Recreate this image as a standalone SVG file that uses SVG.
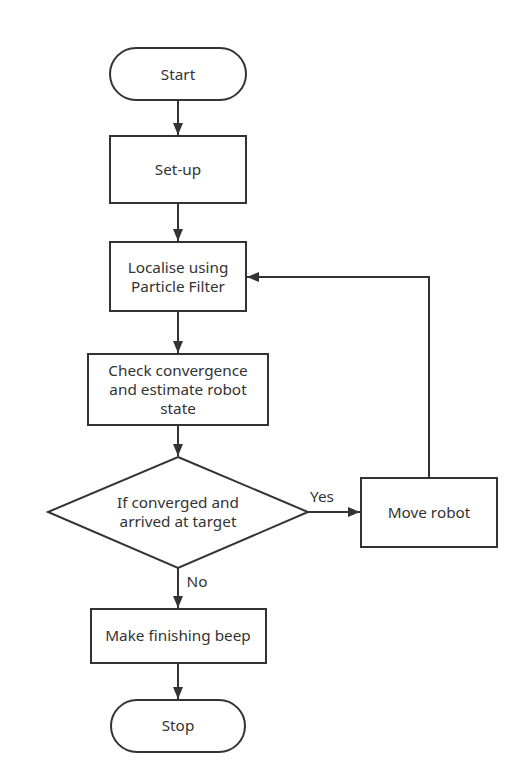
<svg xmlns="http://www.w3.org/2000/svg" width="529" height="784" viewBox="0 0 529 784">
<style>
.s{fill:#fff;stroke:#333;stroke-width:2}
.c{fill:none;stroke:#333;stroke-width:2}
text{font-family:"Noto Sans","Open Sans","DejaVu Sans",sans-serif;font-size:15.3px;fill:#333;text-anchor:middle}
</style>
<defs>
<marker id="a" viewBox="0 0 12 10" refX="12" refY="5" markerWidth="12" markerHeight="10" markerUnits="userSpaceOnUse" orient="auto">
<path d="M0,0 L12,5 L0,10 Z" fill="#333"/>
</marker>
</defs>
<rect width="529" height="784" fill="#fff"/>
<g id="connectors">
<line class="c" x1="178" y1="100" x2="178" y2="135" marker-end="url(#a)"/>
<line class="c" x1="178" y1="203" x2="178" y2="241" marker-end="url(#a)"/>
<line class="c" x1="178" y1="311" x2="178" y2="353" marker-end="url(#a)"/>
<line class="c" x1="178" y1="425" x2="178" y2="456" marker-end="url(#a)"/>
<line class="c" x1="308" y1="512" x2="360" y2="512" marker-end="url(#a)"/>
<line class="c" x1="178" y1="568" x2="178" y2="608" marker-end="url(#a)"/>
<line class="c" x1="178" y1="663" x2="178" y2="699" marker-end="url(#a)"/>
<polyline class="c" points="429,478 429,277 247,277" marker-end="url(#a)"/>
<text x="322" y="502">Yes</text>
<text x="197" y="587">No</text>
</g>
<g id="start"><rect class="s" x="110" y="48" width="136" height="52" rx="26"/><text x="178" y="80">Start</text></g>
<g id="setup"><rect class="s" x="110" y="136" width="136" height="67"/><text x="178" y="175">Set-up</text></g>
<g id="localise"><rect class="s" x="110" y="242" width="136" height="69"/><text x="178" y="273">Localise using</text><text x="178" y="292">Particle Filter</text></g>
<g id="check"><rect class="s" x="88" y="354" width="180" height="71"/><text x="178" y="376">Check convergence</text><text x="178" y="395">and estimate robot</text><text x="178" y="414">state</text></g>
<g id="decision"><polygon class="s" points="178,457 308,512 178,568 48,512"/><text x="178" y="508">If converged and</text><text x="178" y="527">arrived at target</text></g>
<g id="move"><rect class="s" x="361" y="478" width="136" height="69"/><text x="429" y="518">Move robot</text></g>
<g id="beep"><rect class="s" x="91" y="609" width="175" height="54"/><text x="178" y="641">Make finishing beep</text></g>
<g id="stop"><rect class="s" x="111" y="700" width="134" height="52" rx="26"/><text x="178" y="731">Stop</text></g>
</svg>
